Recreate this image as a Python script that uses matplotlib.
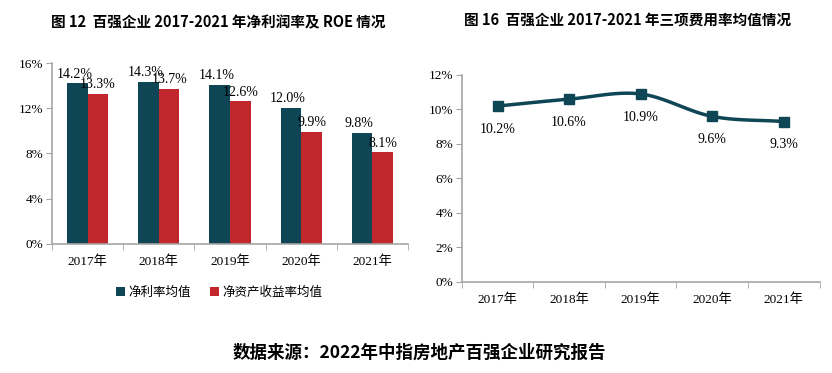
import numpy as np
import matplotlib
matplotlib.use("Agg")
import matplotlib.pyplot as plt
from matplotlib.ticker import FixedLocator, FuncFormatter

# data
years = ["2017年", "2018年", "2019年", "2020年", "2021年"]
net_margin = [14.2, 14.3, 14.1, 12.0, 9.8]
roe = [13.3, 13.7, 12.6, 9.9, 8.1]
expense_rate = [10.2, 10.6, 10.9, 9.6, 9.3]

DARK = "#0f4656"
RED = "#c1272d"
AXIS = "#a6a6a6"
SERIF = ["Liberation Serif", "Noto Sans CJK SC"]
SANS = ["Noto Sans CJK SC", "DejaVu Sans"]

plt.rcParams["font.family"] = SERIF


def smooth(x, y, n=30):
    # catmull-rom spline through the points, like excel's smoothed line
    x = np.asarray(x, float)
    y = np.asarray(y, float)
    px = np.concatenate([[2 * x[0] - x[1]], x, [2 * x[-1] - x[-2]]])
    py = np.concatenate([[2 * y[0] - y[1]], y, [2 * y[-1] - y[-2]]])
    xs, ys = [], []
    for i in range(1, len(px) - 2):
        t = np.linspace(0, 1, n)
        for p, out in ((px, xs), (py, ys)):
            p0, p1, p2, p3 = p[i - 1], p[i], p[i + 1], p[i + 2]
            out.extend(0.5 * ((2 * p1) + (-p0 + p2) * t
                              + (2 * p0 - 5 * p1 + 4 * p2 - p3) * t ** 2
                              + (-p0 + 3 * p1 - 3 * p2 + p3) * t ** 3))
    return np.array(xs), np.array(ys)


def style_axis(ax, top):
    for s in ("top", "right"):
        ax.spines[s].set_visible(False)
    for s in ("left", "bottom"):
        ax.spines[s].set_color(AXIS)
        ax.spines[s].set_linewidth(1.2)
    ax.set_xlim(-0.5, len(years) - 0.5)
    ax.set_ylim(0, top)
    ax.set_xticks(range(len(years)))
    ax.set_xticklabels(years, fontsize=9.5)
    ax.xaxis.set_minor_locator(FixedLocator(np.arange(-0.5, len(years), 1)))
    ax.tick_params(axis="x", which="major", length=0, pad=8)
    ax.tick_params(axis="x", which="minor", length=4, color=AXIS)
    ax.tick_params(axis="y", length=4, color=AXIS, labelsize=9.5, pad=2)
    ax.yaxis.set_major_formatter(FuncFormatter(lambda v, p: f"{v:.0f}%"))


fig = plt.figure(figsize=(8.32, 3.73), dpi=100)

# left: net margin and ROE bars
ax1 = fig.add_axes([0.0625, 0.346, 0.428, 0.485])
x = np.arange(len(years))
w = 0.29
ax1.bar(x - w / 2, net_margin, w, color=DARK, label="净利率均值")
ax1.bar(x + w / 2, roe, w, color=RED, label="净资产收益率均值")
style_axis(ax1, 16)
ax1.set_yticks([0, 4, 8, 12, 16])
for xi, v in zip(x, net_margin):
    ax1.annotate(f"{v:.1f}%", (xi - w / 2, v), xytext=(-2, 2), textcoords="offset points",
                 ha="center", va="bottom", fontsize=10)
for xi, v in zip(x, roe):
    ax1.annotate(f"{v:.1f}%", (xi + w / 2, v), xytext=(0, 2), textcoords="offset points",
                 ha="center", va="bottom", fontsize=10)
ax1.legend(loc="upper center", bbox_to_anchor=(0.47, -0.17), ncol=2, frameon=False,
           handlelength=0.7, handleheight=0.7, handletextpad=0.3, columnspacing=1.5,
           prop={"family": SANS, "size": 9})
fig.text(0.262, 0.94, "图 12  百强企业 2017-2021 年净利润率及 ROE 情况", ha="center", va="center",
         fontsize=10.5, fontweight="bold", family=SANS)

# right: expense rate line
ax2 = fig.add_axes([0.555, 0.244, 0.430, 0.555])
sx, sy = smooth(x, expense_rate)
ax2.plot(sx, sy, color=DARK, lw=2.5)
ax2.plot(x, expense_rate, ls="none", marker="s", ms=7, color=DARK)
style_axis(ax2, 12)
ax2.set_yticks([0, 2, 4, 6, 8, 10, 12])
for xi, v in zip(x, expense_rate):
    ax2.annotate(f"{v:.1f}%", (xi, v), xytext=(0, -12), textcoords="offset points",
                 ha="center", va="top", fontsize=10)
fig.text(0.754, 0.948, "图 16  百强企业 2017-2021 年三项费用率均值情况", ha="center", va="center",
         fontsize=10.5, fontweight="bold", family=SANS)

fig.text(0.504, 0.055, "数据来源：2022年中指房地产百强企业研究报告", ha="center", va="center",
         fontsize=12.6, fontweight="bold", family=SANS)

fig.savefig("out.png", dpi=100)
